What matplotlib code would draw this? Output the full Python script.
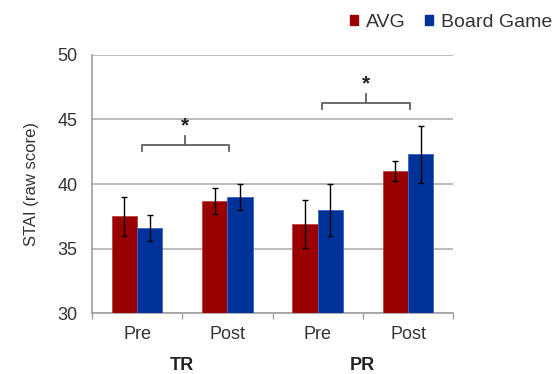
import matplotlib
matplotlib.use("Agg")
import matplotlib.pyplot as plt
import numpy as np
from matplotlib.patches import Patch

plt.rcParams["font.family"] = ["Liberation Sans", "DejaVu Sans"]

conditions = ["Pre", "Post", "Pre", "Post"]
groups = ["TR", "PR"]
avg_mean = [37.5, 38.7, 36.9, 41.0]
avg_err = [1.5, 1.0, 1.85, 0.8]
bg_mean = [36.6, 39.0, 38.0, 42.3]
bg_err = [1.0, 1.0, 2.0, 2.2]
# significance brackets: (left category, right category, height)
brackets = [(0, 1, 43.0), (2, 3, 46.3)]

red = "#990000"
blue = "#003399"
txt = "#333333"

fig = plt.figure(figsize=(5.54, 3.74), dpi=100)
ax = fig.add_axes([0.166, 0.163, 0.652, 0.69])

x = np.arange(len(conditions))
w = 0.28
ax.bar(x - w / 2, avg_mean, w, color=red, edgecolor="#c04040", linewidth=0.6, zorder=3)
ax.bar(x + w / 2, bg_mean, w, color=blue, edgecolor="#4060c0", linewidth=0.6, zorder=3)
ax.errorbar(x - w / 2, avg_mean, yerr=avg_err, fmt="none", ecolor="black",
            elinewidth=1, capsize=2.5, capthick=1, zorder=4)
ax.errorbar(x + w / 2, bg_mean, yerr=bg_err, fmt="none", ecolor="black",
            elinewidth=1, capsize=2.5, capthick=1, zorder=4)

ax.set_ylim(30, 50)
ax.set_xlim(-0.5, len(conditions) - 0.5)
ax.set_yticks([30, 35, 40, 45, 50])
ax.yaxis.grid(True, color="#b0b0b0", linewidth=1.2, zorder=0)
ax.tick_params(axis="y", length=0, labelsize=13, pad=10.5, labelcolor=txt)
ax.set_xticks(np.arange(len(conditions) + 1) - 0.5)
ax.set_xticklabels([])
ax.tick_params(axis="x", length=4, color="#a0a0a0", width=1)
for xi, lab in zip(x, conditions):
    ax.text(xi, 29.0, lab, ha="center", va="top", fontsize=13, color=txt)
for gi, g in enumerate(groups):
    ax.text(2 * gi + 0.5, 26.6, g, ha="center", va="top", fontsize=13,
            fontweight="bold", color="#222222")

for s in ["top", "right"]:
    ax.spines[s].set_visible(False)
for s in ["left", "bottom"]:
    ax.spines[s].set_color("#a0a0a0")
    ax.spines[s].set_linewidth(1.2)

ax.set_ylabel("STAI (raw score)", fontsize=12, labelpad=13, color=txt)

for a, b, h in brackets:
    xl, xr = a + 0.05, b + 0.02
    xm = (xl + xr) / 2
    ax.plot([xl, xl, xr, xr], [h - 0.45, h, h, h - 0.45], color="#606060", lw=1.3,
            clip_on=False, zorder=5)
    ax.plot([xm, xm], [h, h + 0.7], color="#606060", lw=1.3, clip_on=False, zorder=5)
    ax.text(xm, h + 0.75, "*", ha="center", va="bottom", fontsize=15,
            fontweight="bold", color="#222222")

handles = [Patch(color=red), Patch(color=blue)]
leg = fig.legend(handles, ["AVG", "Board Game"], loc="upper right",
                 bbox_to_anchor=(1.028, 1.01), ncol=2, frameon=False, fontsize=14,
                 handlelength=0.4, handleheight=0.4, handletextpad=0.4,
                 columnspacing=1.0, labelcolor=txt)

fig.savefig("out.png", dpi=100)
